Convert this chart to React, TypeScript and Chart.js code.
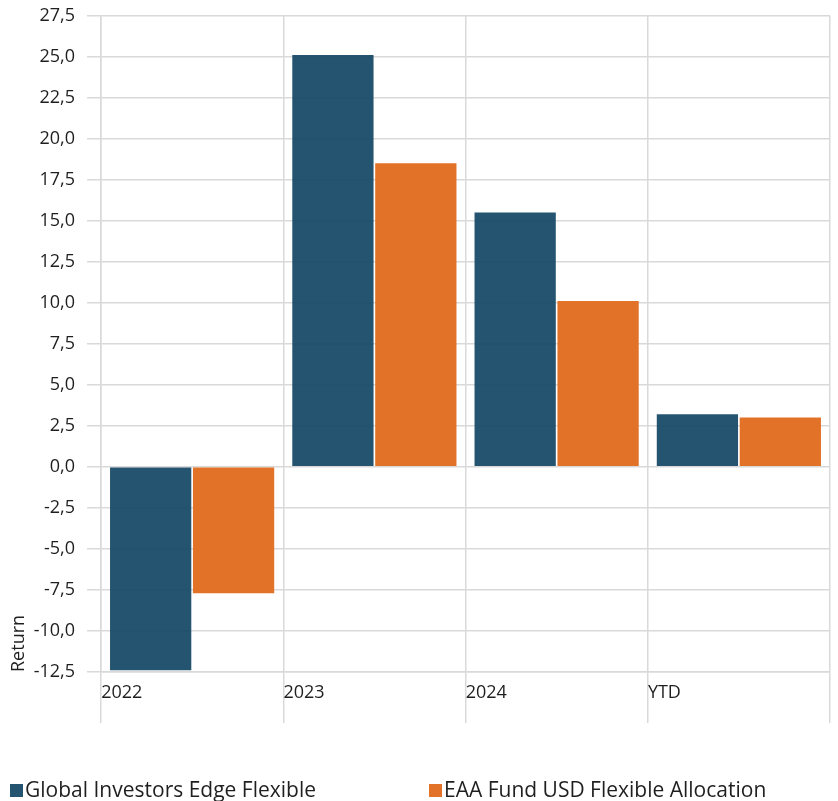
import React, { useEffect, useRef } from "react";
import { Chart, registerables } from "chart.js";

Chart.register(...registerables);

const categories = ["2022", "2023", "2024", "YTD"];
const seriesNames = ["Global Investors Edge Flexible", "EAA Fund USD Flexible Allocation"];
const fundReturns = [-12.4, 25.1, 15.5, 3.2];
const peerReturns = [-7.7, 18.5, 10.1, 3.0];
const seriesFill = ["rgba(24,75,104,0.95)", "#e27228"];
const seriesSwatch = ["#245470", "#e27228"];
const yMin = -12.5;
const yMax = 27.5;
const yStep = 2.5;
const yTitle = "Return";

const FONT = "'Open Sans', 'Noto Sans', sans-serif";
const TEXT = "#1f1f1f";
const GRID = "#d9d9d9";

export default function App() {
  const ref = useRef<HTMLCanvasElement>(null);

  useEffect(() => {
    document.body.style.margin = "0";
    const legendPlugin = {
      id: "bottomLegend",
      afterDraw(chart: any) {
        const ctx = chart.ctx;
        ctx.save();
        ctx.font = `21px ${FONT}`;
        ctx.textBaseline = "alphabetic";
        ctx.textAlign = "left";
        const half = chart.width / 2;
        const baseY = chart.height - 4;
        seriesNames.forEach((name, i) => {
          const x = 10 + i * half;
          ctx.fillStyle = seriesSwatch[i];
          ctx.fillRect(x, baseY - 13, 13, 13);
          ctx.fillStyle = TEXT;
          ctx.fillText(name, x + 15, baseY);
        });
        ctx.restore();
      },
    };

    const chart = new Chart(ref.current!, {
      type: "bar",
      data: {
        labels: categories,
        datasets: [
          { label: seriesNames[0], data: fundReturns, backgroundColor: seriesFill[0], borderWidth: 0 },
          { label: seriesNames[1], data: peerReturns, backgroundColor: seriesFill[1], borderWidth: 0 },
        ],
      },
      options: {
        animation: false,
        responsive: true,
        maintainAspectRatio: false,
        layout: { padding: { top: 0, right: 8, left: 0, bottom: 69 } },
        datasets: { bar: { categoryPercentage: 0.91, barPercentage: 0.98 } },
        plugins: {
          legend: { display: false },
          tooltip: { enabled: false },
        },
        scales: {
          x: {
            afterFit: (s: any) => {
              s.height = 60;
            },
            grid: { color: GRID, lineWidth: 1.5, tickLength: 51, offset: true },
            border: { color: GRID, width: 1.5 },
            ticks: {
              align: "start",
              labelOffset: -91,
              padding: -41,
              maxRotation: 0,
              autoSkip: false,
              color: TEXT,
              font: { family: FONT, size: 18 },
            },
          },
          y: {
            min: yMin,
            max: yMax,
            afterFit: (s: any) => {
              s.width = 101;
              s.paddingTop = 15.5;
              s.paddingBottom = 10;
            },
            grid: { color: GRID, lineWidth: 1.5, tickLength: 14 },
            border: { color: GRID, width: 1.5 },
            ticks: {
              stepSize: yStep,
              padding: 12,
              color: TEXT,
              font: { family: FONT, size: 18 },
              callback: (v: any) => Number(v).toFixed(1).replace(".", ","),
            },
            title: {
              display: true,
              text: yTitle,
              align: "start",
              color: TEXT,
              font: { family: FONT, size: 18 },
              padding: { top: 8, bottom: 0 },
            },
          },
        },
      },
      plugins: [legendPlugin],
    } as any);

    return () => chart.destroy();
  }, []);

  return (
    <div style={{ width: 838, height: 801, position: "relative" }}>
      <canvas ref={ref} />
    </div>
  );
}
